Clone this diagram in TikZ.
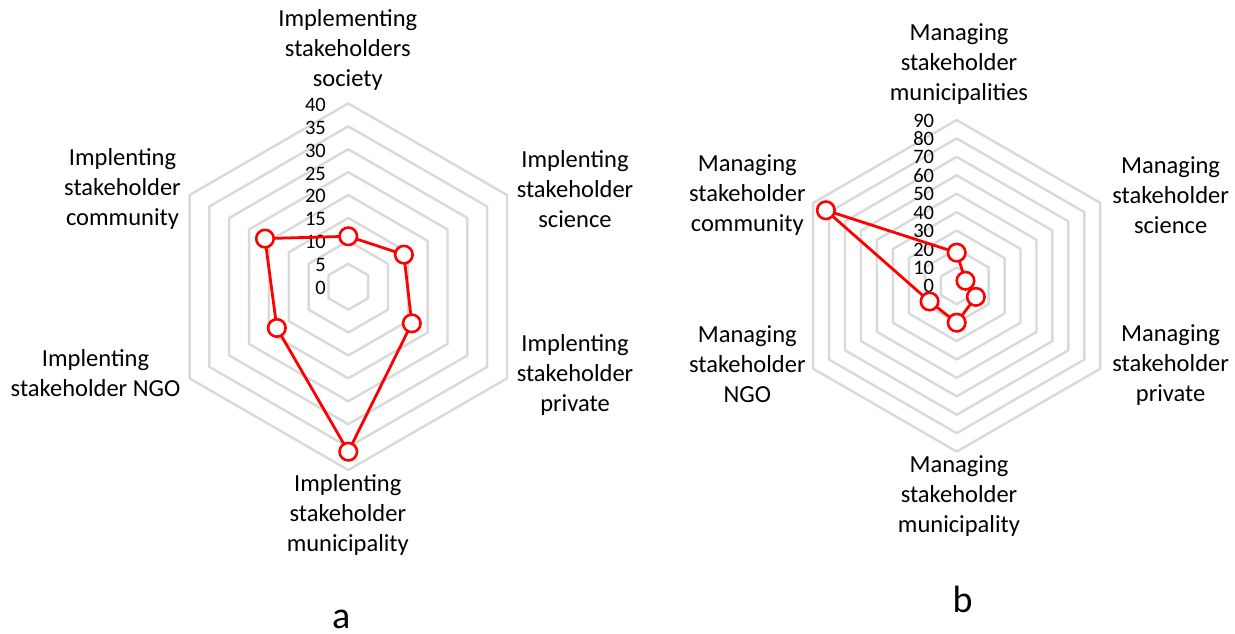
\documentclass[tikz,border=0pt]{standalone}
\usepackage{fontspec}
\setmainfont{Carlito}
\usetikzlibrary{calc}
\definecolor{gridgray}{HTML}{D9D9D9}
\definecolor{serred}{HTML}{FF0000}
\tikzset{
  gridring/.style={draw=gridgray, line width=2.4pt, line join=round},
  series/.style={draw=serred, line width=2.8pt, line join=round},
  marker/.style={circle, draw=serred, fill=white, line width=2.6pt, minimum size=17.5pt, inner sep=0pt},
  tick/.style={anchor=east, inner sep=0pt, font=\fontsize{20.5}{20.5}\selectfont},
  axlabel/.style={align=center, inner sep=0pt, font=\fontsize{24.5}{30}\selectfont},
  panel/.style={anchor=base, inner sep=0pt, font=\fontsize{38}{38}\selectfont}
}
\begin{document}
\begin{tikzpicture}[x=1pt,y=1pt]
\useasboundingbox (0,0) rectangle (1235,-633);
% ---------- chart a ----------
\coordinate (CA) at (348.3,-286.7);
\def\SA{4.5825}% px per unit (183.3/40)
\foreach \k in {1,...,8}{
  \draw[gridring, shift={(CA)}] (90:{\k*22.9125}) -- (30:{\k*22.9125}) -- (-30:{\k*22.9125}) -- (-90:{\k*22.9125}) -- (210:{\k*22.9125}) -- (150:{\k*22.9125}) -- cycle;
}
\foreach \v [count=\i from 0] in {0,5,10,15,20,25,30,35,40}{
  \node[tick] (ta\i) at (326,{-288+\i*22.9125}) {\v};
}
\coordinate (a1) at ($(CA)+(90:{11*\SA})$);
\coordinate (a2) at ($(CA)+(30:{14*\SA})$);
\coordinate (a3) at ($(CA)+(-30:{16*\SA})$);
\coordinate (a4) at ($(CA)+(-90:{36*\SA})$);
\coordinate (a5) at ($(CA)+(210:{18*\SA})$);
\coordinate (a6) at ($(CA)+(150:{21*\SA})$);
\draw[series] (a1) -- (a2) -- (a3) -- (a4) -- (a5) -- (a6) -- cycle;
\foreach \p in {a1,a2,a3,a4,a5,a6}{ \node[marker] (m\p) at (\p) {}; }
\node[axlabel] (la1) at (347.8,-49.5) {Implementing\\stakeholders\\society};
\node[axlabel] (la2) at (575,-189) {Implenting\\stakeholder\\science};
\node[axlabel] (la3) at (575,-375) {Implenting\\stakeholder\\private};
\node[axlabel] (la4) at (347.8,-515) {Implenting\\stakeholder\\municipality};
\node[axlabel] (la5) at (95.5,-373) {Implenting\\stakeholder NGO};
\node[axlabel] (la6) at (122.5,-189) {Implenting\\stakeholder\\community};
\node[panel] (pa) at (341.3,-628.5) {a};
% ---------- chart b ----------
\coordinate (CB) at (956.7,-285.8);
\def\SB{1.84222}% px per unit (165.8/90)
\foreach \k in {1,...,9}{
  \draw[gridring, shift={(CB)}] (90:{\k*18.422}) -- (30:{\k*18.422}) -- (-30:{\k*18.422}) -- (-90:{\k*18.422}) -- (210:{\k*18.422}) -- (150:{\k*18.422}) -- cycle;
}
\foreach \v [count=\i from 0] in {0,10,20,30,40,50,60,70,80,90}{
  \node[tick] (tb\i) at (934.3,{-286.3+\i*18.422}) {\v};
}
\coordinate (b1) at ($(CB)+(90:{18*\SB})$);
\coordinate (b2) at ($(CB)+(30:{5.5*\SB})$);
\coordinate (b3) at ($(CB)+(-30:{12*\SB})$);
\coordinate (b4) at ($(CB)+(-90:{20*\SB})$);
\coordinate (b5) at ($(CB)+(210:{17*\SB})$);
\coordinate (b6) at ($(CB)+(150:{82*\SB})$);
\draw[series] (b1) -- (b2) -- (b3) -- (b4) -- (b5) -- (b6) -- cycle;
\foreach \p in {b1,b2,b3,b4,b5,b6}{ \node[marker] (m\p) at (\p) {}; }
\node[axlabel] (lb1) at (959,-64.5) {Managing\\stakeholder\\municipalities};
\node[axlabel] (lb2) at (1170.6,-195.5) {Managing\\stakeholder\\science};
\node[axlabel] (lb3) at (1170.6,-364.6) {Managing\\stakeholder\\private};
\node[axlabel] (lb4) at (959,-496) {Managing\\stakeholder\\municipality};
\node[axlabel] (lb5) at (747.3,-364.6) {Managing\\stakeholder\\NGO};
\node[axlabel] (lb6) at (747.3,-195.5) {Managing\\stakeholder\\community};
\node[panel] (pb) at (962.5,-612.3) {b};
\end{tikzpicture}
\end{document}
